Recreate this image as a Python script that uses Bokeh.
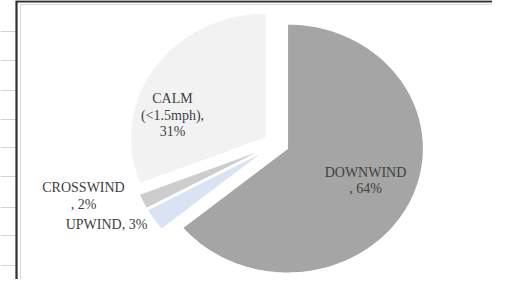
import numpy as np
from bokeh.plotting import figure
from bokeh.models import Range1d, ColumnDataSource
from bokeh.core.properties import value
from bokeh.embed import file_html
from bokeh.resources import INLINE

# ---- data ----
categories = ["DOWNWIND", "UPWIND", "CROSSWIND", "CALM\n(<1.5mph)"]
percents = [64, 3, 2, 31]

# ---- styles / layout ----
colors = ["#a5a5a5", "#dae3f3", "#cdcdcd", "#f2f2f2"]
label_seps = ["\n, ", ", ", "\n, ", ",\n"]
FW, FH = 492, 279
H = 295  # reference coordinate space (screen px, y down)


def Y(sy):
    return H - sy


label_pos = [(365, 180), (106, 224), (83, 195.5), (172, 114.5)]

p = figure(width=FW, height=FH, output_backend="svg", toolbar_location=None,
           x_range=Range1d(0, FW), y_range=Range1d(Y(FH), Y(0)),
           x_axis_location=None, y_axis_location=None, min_border=0,
           outline_line_color=None, background_fill_color="white")
p.grid.visible = False

# ---- pie (clockwise from 12 o'clock, exploded; picture is slightly wider than tall) ----
vals = np.array(percents, dtype=float)
frac = vals / vals.sum()
cum_end = np.cumsum(frac)
cum_start = cum_end - frac
cx0, cy0 = 276, Y(143.3)
rx, ry = 136, 124.5
ex, ey = 12.1, 11
xs, ys = [], []
for a0, a1 in zip(cum_start, cum_end):
    tm = np.pi * (a0 + a1)
    cx = cx0 + ex * np.sin(tm)
    cy = cy0 + ey * np.cos(tm)
    n = max(4, int(240 * (a1 - a0)))
    t = np.linspace(2 * np.pi * a0, 2 * np.pi * a1, n)
    xs.append(np.concatenate([[cx], cx + rx * np.sin(t)]).tolist())
    ys.append(np.concatenate([[cy], cy + ry * np.cos(t)]).tolist())
src = ColumnDataSource(dict(xs=xs, ys=ys, color=colors, name=categories, pct=percents))
p.patches(xs="xs", ys="ys", fill_color="color", line_color="white",
          line_width=1.2, source=src)

labels = [c + s + f"{v}%" for c, s, v in zip(categories, label_seps, percents)]
p.text(x=[q[0] for q in label_pos], y=[Y(q[1]) for q in label_pos], text=labels,
       text_align="center", text_baseline="middle",
       text_font=value("Liberation Serif"), text_font_size="14px",
       text_color="#404040", text_line_height=1.1)

# ---- spreadsheet / chart frame decoration ----
grid_ys = [31, 60, 90, 119, 147, 176, 207, 235, 265]
p.segment(x0=[0] * len(grid_ys), y0=[Y(g) for g in grid_ys],
          x1=[15] * len(grid_ys), y1=[Y(g) for g in grid_ys],
          line_color="#d4d4d4", line_width=1)
# outer dark frame (left + top)
p.segment(x0=[16, 16], y0=[Y(0), Y(0.8)], x1=[16, FW], y1=[Y(FH), Y(0.8)],
          line_color="#2e2e2e", line_width=2.2)
# inner light chart-area border (left + top)
p.segment(x0=[20, 20], y0=[Y(4), Y(4)], x1=[20, FW], y1=[Y(FH), Y(4)],
          line_color="#d9d9d9", line_width=1.2)

open("out.html", "w").write(file_html(p, INLINE))
